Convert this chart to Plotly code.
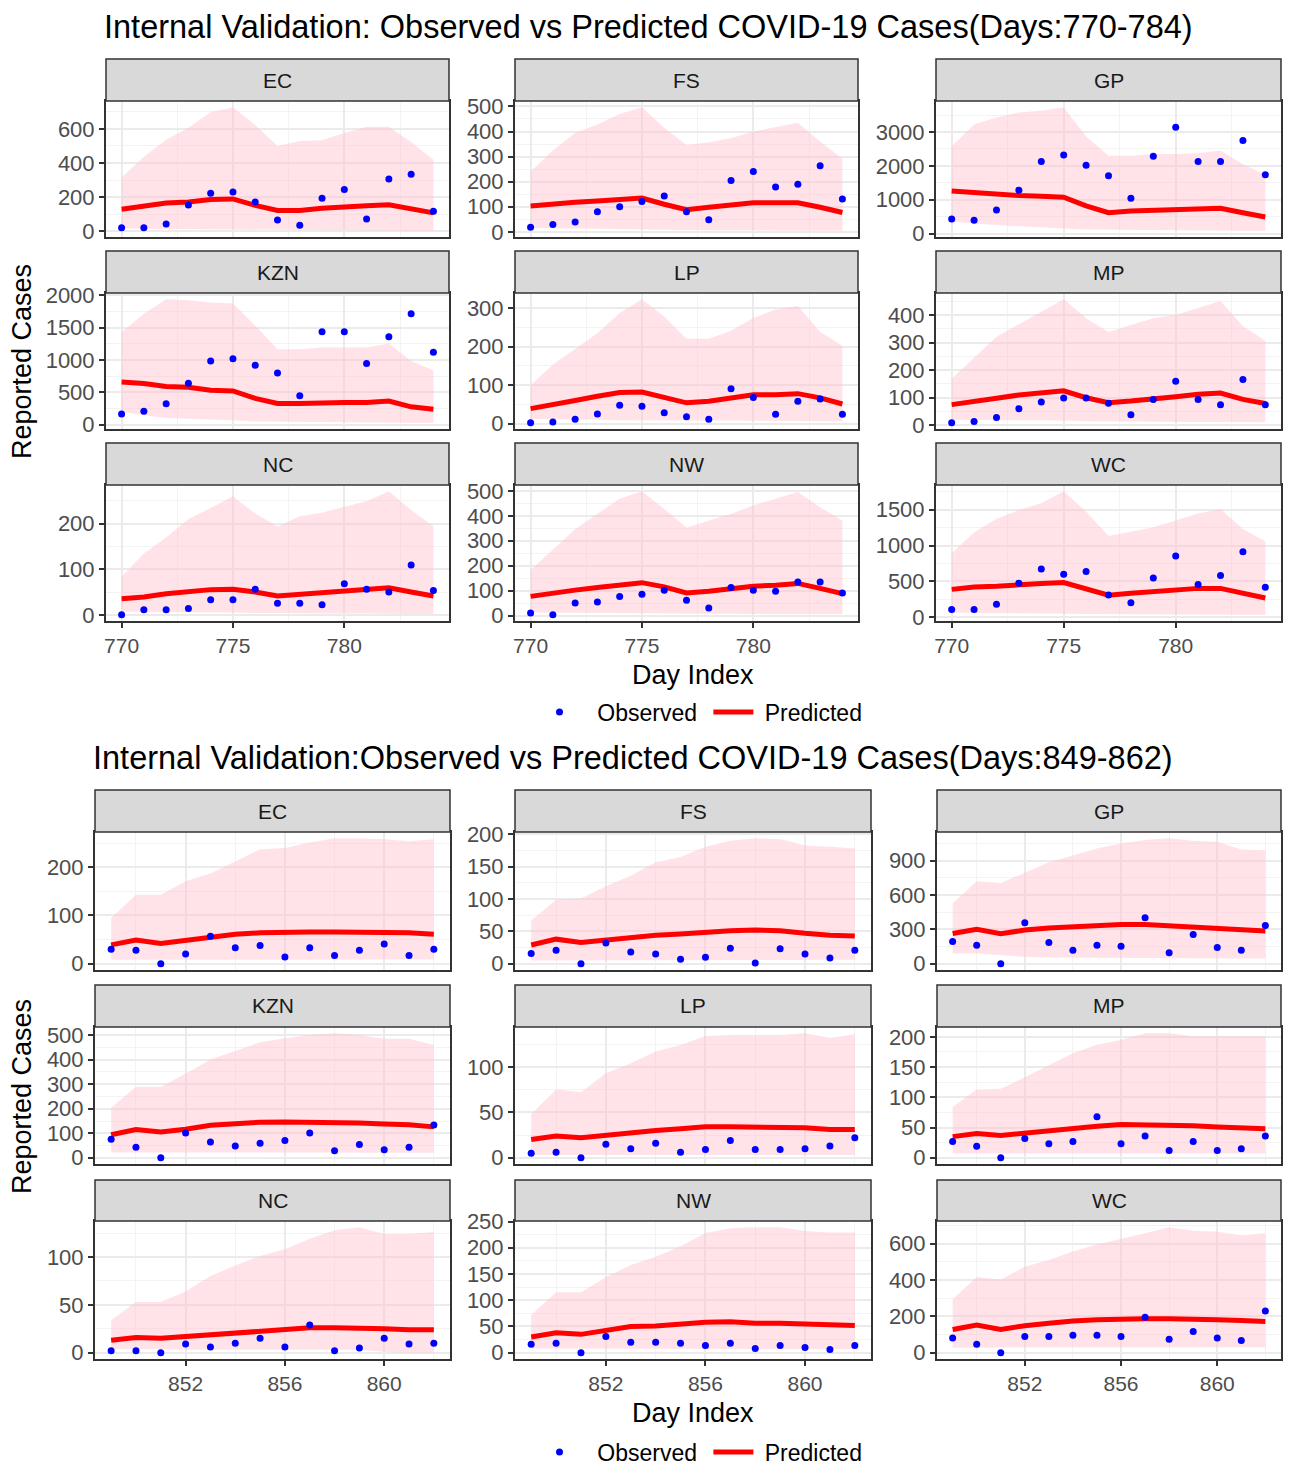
import plotly.graph_objects as go

W, H = 1295, 1465
regions = ["EC", "FS", "GP", "KZN", "LP", "MP", "NC", "NW", "WC"]
days_top = list(range(770, 785))
days_bot = list(range(849, 863))

# ---------------- Days 770-784 ----------------
obs_top = {
    "EC": [20, 20, 42, 153, 222, 230, 171, 66, 34, 193, 244, 72, 306, 334, 117],
    "FS": [18, 29, 39, 80, 100, 121, 143, 80, 48, 205, 241, 179, 190, 263, 131],
    "GP": [430, 389, 696, 1279, 2129, 2323, 2016, 1709, 1044, 2282, 3142, 2129, 2129, 2753, 1740],
    "KZN": [167, 209, 324, 642, 982, 1018, 919, 799, 449, 1436, 1436, 945, 1358, 1713, 1117],
    "LP": [2, 4, 11, 25, 48, 45, 28, 18, 11, 91, 68, 24, 58, 64, 24],
    "MP": [9, 14, 28, 60, 85, 99, 99, 80, 38, 94, 160, 94, 75, 166, 75],
    "NC": [1, 12, 12, 15, 34, 34, 57, 26, 26, 23, 69, 57, 51, 110, 54],
    "NW": [10, 3, 50, 54, 76, 86, 102, 61, 30, 113, 102, 98, 135, 135, 91],
    "WC": [106, 106, 178, 473, 670, 598, 636, 309, 198, 545, 853, 453, 579, 911, 415],
}
pred_top = {
    "EC": [129, 149, 165, 171, 185, 189, 151, 121, 121, 135, 139, 149, 155, 129, 107],
    "FS": [103, 112, 118, 123, 128, 135, 110, 88, 98, 105, 116, 116, 116, 98, 77],
    "GP": [1259, 1208, 1177, 1126, 1105, 1075, 819, 614, 665, 686, 716, 747, 747, 614, 491],
    "KZN": [658, 637, 590, 580, 533, 522, 407, 329, 329, 345, 345, 345, 366, 277, 240],
    "LP": [39, 51, 60, 71, 81, 82, 69, 54, 58, 66, 75, 75, 78, 67, 51],
    "MP": [75, 85, 98, 110, 117, 125, 100, 82, 88, 98, 104, 113, 117, 94, 79],
    "NC": [36, 40, 47, 52, 56, 57, 51, 42, 46, 49, 53, 56, 60, 51, 42],
    "NW": [77, 91, 102, 113, 125, 132, 115, 91, 98, 109, 118, 122, 129, 109, 88],
    "WC": [386, 419, 429, 453, 468, 482, 395, 304, 333, 352, 381, 400, 400, 328, 265],
}
upper_top = {
    "EC": [314, 437, 536, 606, 697, 727, 622, 499, 529, 533, 576, 612, 612, 523, 419],
    "FS": [240, 325, 394, 428, 470, 497, 415, 346, 357, 373, 400, 417, 435, 360, 291],
    "GP": [2579, 3224, 3429, 3582, 3634, 3736, 2866, 2303, 2303, 2354, 2354, 2374, 2456, 2047, 1740],
    "KZN": [1426, 1713, 1937, 1922, 1885, 1870, 1530, 1165, 1165, 1191, 1191, 1191, 1253, 982, 836],
    "LP": [100, 154, 194, 235, 288, 324, 279, 221, 221, 242, 275, 297, 306, 239, 203],
    "MP": [169, 247, 322, 367, 414, 458, 389, 339, 364, 389, 401, 426, 451, 360, 307],
    "NC": [84, 135, 170, 210, 234, 260, 222, 194, 216, 224, 237, 249, 271, 230, 194],
    "NW": [183, 265, 346, 408, 469, 499, 428, 353, 380, 408, 442, 469, 496, 435, 380],
    "WC": [892, 1181, 1374, 1495, 1591, 1760, 1471, 1133, 1191, 1254, 1350, 1446, 1509, 1230, 1061],
}
lower_top = {
    "EC": [15, 14, 12, 11, 10, 9, 6, 4, 4, 4, 3, 3, 3, 2, 2],
    "FS": [15, 14, 13, 12, 11, 10, 8, 6, 6, 6, 5, 5, 5, 4, 4],
    "GP": [360, 300, 250, 210, 180, 150, 120, 100, 95, 90, 90, 85, 85, 80, 80],
    "KZN": [200, 146, 104, 94, 84, 68, 52, 42, 40, 40, 38, 36, 34, 32, 30],
    "LP": [12, 11, 10, 10, 9, 9, 9, 8, 8, 8, 8, 7, 7, 6, 6],
    "MP": [20, 19, 18, 18, 17, 17, 15, 14, 14, 13, 13, 12, 12, 11, 11],
    "NC": [8, 7, 7, 6, 6, 6, 5, 5, 5, 4, 4, 4, 4, 3, 3],
    "NW": [12, 11, 10, 10, 9, 9, 8, 7, 7, 7, 6, 6, 6, 5, 5],
    "WC": [60, 55, 52, 50, 48, 46, 40, 35, 34, 33, 32, 31, 30, 30, 30],
}

# ---------------- Days 849-862 ----------------
obs_bot = {
    "EC": [30, 28, 0, 20, 57, 33, 38, 14, 33, 17, 28, 41, 17, 30],
    "FS": [16, 21, 0, 32, 18, 15, 7, 10, 24, 1, 23, 15, 9, 21],
    "GP": [195, 162, 0, 357, 186, 117, 162, 153, 402, 96, 255, 141, 117, 333],
    "KZN": [76, 43, 0, 101, 64, 48, 59, 70, 101, 29, 54, 33, 43, 134],
    "LP": [5, 6, 0, 15, 10, 16, 6, 9, 19, 9, 9, 10, 13, 22],
    "MP": [27, 19, 0, 32, 23, 27, 68, 23, 36, 12, 27, 12, 15, 36],
    "NC": [2, 2, 0, 9, 6, 10, 15, 6, 29, 2, 5, 15, 9, 10],
    "NW": [16, 18, 0, 31, 20, 20, 18, 14, 18, 8, 14, 10, 6, 14],
    "WC": [81, 47, 0, 89, 89, 96, 96, 89, 196, 74, 117, 81, 68, 230],
}
pred_bot = {
    "EC": [39, 49, 42, 49, 55, 61, 64, 66, 66, 66, 66, 65, 64, 61],
    "FS": [29, 38, 33, 37, 41, 44, 46, 49, 51, 52, 51, 47, 44, 43],
    "GP": [264, 300, 261, 294, 312, 324, 336, 342, 342, 330, 315, 300, 294, 285],
    "KZN": [94, 115, 105, 116, 133, 140, 145, 146, 146, 142, 142, 138, 135, 126],
    "LP": [20, 24, 22, 25, 28, 30, 32, 34, 34, 34, 34, 33, 31, 31],
    "MP": [35, 40, 37, 41, 46, 49, 52, 55, 55, 53, 53, 51, 49, 48],
    "NC": [13, 16, 15, 17, 19, 21, 23, 24, 26, 26, 26, 25, 24, 24],
    "NW": [30, 38, 35, 42, 50, 51, 55, 58, 59, 56, 56, 55, 52, 52],
    "WC": [128, 153, 128, 149, 162, 175, 181, 187, 187, 187, 181, 181, 177, 172],
}
upper_bot = {
    "EC": [95, 143, 143, 171, 187, 212, 237, 240, 251, 260, 260, 258, 254, 258],
    "FS": [67, 99, 101, 120, 136, 157, 165, 181, 190, 194, 193, 183, 181, 178],
    "GP": [525, 720, 705, 795, 885, 945, 1005, 1050, 1080, 1095, 1074, 1065, 996, 990],
    "KZN": [204, 290, 290, 343, 401, 436, 471, 488, 501, 508, 501, 485, 485, 460],
    "LP": [48, 75, 72, 93, 104, 117, 124, 134, 135, 135, 135, 137, 132, 136],
    "MP": [84, 113, 114, 133, 153, 173, 187, 195, 206, 206, 201, 201, 201, 201],
    "NC": [34, 53, 53, 64, 80, 91, 101, 108, 119, 128, 131, 124, 124, 126],
    "NW": [72, 115, 115, 144, 167, 183, 203, 228, 237, 239, 239, 232, 229, 229],
    "WC": [294, 417, 402, 474, 511, 558, 596, 625, 658, 691, 672, 666, 647, 658],
}
lower_bot = {
    "EC": [8, 9, 9, 9, 9, 9, 9, 9, 9, 9, 9, 9, 9, 9],
    "FS": [5, 6, 6, 6, 6, 6, 6, 6, 6, 6, 6, 6, 6, 6],
    "GP": [90, 90, 75, 60, 54, 52, 50, 50, 48, 48, 46, 46, 45, 45],
    "KZN": [22, 20, 20, 20, 20, 20, 20, 20, 20, 20, 20, 20, 20, 20],
    "LP": [3, 3, 3, 3, 3, 3, 3, 3, 3, 3, 3, 3, 3, 3],
    "MP": [7, 7, 7, 7, 7, 7, 7, 7, 7, 7, 7, 7, 7, 7],
    "NC": [4, 4, 4, 3, 3, 3, 3, 3, 3, 3, 3, 1, 0, 0],
    "NW": [8, 8, 8, 7, 7, 7, 7, 7, 7, 7, 7, 7, 7, 7],
    "WC": [28, 30, 30, 30, 30, 30, 30, 30, 30, 30, 30, 30, 30, 30],
}

ydtick_top = {"EC": 200, "FS": 100, "GP": 1000, "KZN": 500, "LP": 100,
              "MP": 100, "NC": 100, "NW": 100, "WC": 500}
ydtick_bot = {"EC": 100, "FS": 50, "GP": 300, "KZN": 100, "LP": 50,
              "MP": 50, "NC": 50, "NW": 50, "WC": 200}
xticks_top = [770, 775, 780]
xticks_bot = [852, 856, 860]

title_top = "Internal Validation: Observed vs Predicted COVID-19 Cases(Days:770-784)"
title_bot = "Internal Validation:Observed vs Predicted COVID-19 Cases(Days:849-862)"
legend_names = ["Observed", "Predicted"]

# ---------------- layout geometry (pixels) ----------------
grids = [
    dict(days=days_top, obs=obs_top, pred=pred_top, up=upper_top, lo=lower_top,
         dt=ydtick_top, xt=xticks_top, xminor=2.5,
         cols=[(106, 449), (515, 858), (936, 1281)],
         rows=[((59, 101), (101, 237)), ((251, 293), (293, 429)), ((443, 485), (485, 621))],
         title=title_top, title_xy=(102, 27), ytitle_y=362, xtitle_y=675, legend_y=712,
         legend="legend"),
    dict(days=days_bot, obs=obs_bot, pred=pred_bot, up=upper_bot, lo=lower_bot,
         dt=ydtick_bot, xt=xticks_bot, xminor=2,
         cols=[(95, 450), (515, 871), (937, 1281)],
         rows=[((790, 832), (832, 970)), ((985, 1027), (1027, 1164)), ((1180, 1221), (1221, 1359))],
         title=title_bot, title_xy=(91, 758), ytitle_y=1097, xtitle_y=1413, legend_y=1452,
         legend="legend2"),
]

FONT = "Arial, 'Liberation Sans', sans-serif"
NB = "\u00a0"
fx = lambda px: px / W
fy = lambda py: 1 - py / H

fig = go.Figure()
layout = dict(width=W, height=H, margin=dict(l=0, r=0, t=0, b=0, autoexpand=False),
              paper_bgcolor="white", plot_bgcolor="white",
              font=dict(family=FONT, size=20, color="#1A1A1A"),
              shapes=[], annotations=[])

k = 0
for g in grids:
    days = g["days"]
    xr = (days[-1] - days[0]) * 0.05
    for i, reg in enumerate(regions):
        r, c = divmod(i, 3)
        k += 1
        xa = "x" if k == 1 else f"x{k}"
        ya = "y" if k == 1 else f"y{k}"
        xkey = "xaxis" if k == 1 else f"xaxis{k}"
        ykey = "yaxis" if k == 1 else f"yaxis{k}"
        (sy0, sy1), (py0, py1) = g["rows"][r]
        cx0, cx1 = g["cols"][c]
        up, lo, pr, ob = g["up"][reg], g["lo"][reg], g["pred"][reg], g["obs"][reg]
        fig.add_trace(go.Scatter(x=days + days[::-1], y=up + lo[::-1], fill="toself",
                                 fillcolor="rgba(255,192,203,0.45)", line=dict(width=0),
                                 mode="lines", showlegend=False, hoverinfo="skip",
                                 xaxis=xa, yaxis=ya))
        fig.add_trace(go.Scatter(x=days, y=pr, mode="lines",
                                 name=NB + legend_names[1],
                                 line=dict(color="red", width=5),
                                 showlegend=(i == 0), legend=g["legend"], legendrank=2,
                                 xaxis=xa, yaxis=ya))
        fig.add_trace(go.Scatter(x=days, y=ob, mode="markers",
                                 name=NB + NB + legend_names[0] + NB,
                                 marker=dict(color="blue", size=7),
                                 showlegend=(i == 0), legend=g["legend"], legendrank=1,
                                 xaxis=xa, yaxis=ya))
        ymin = min(min(up), min(lo), min(pr), min(ob))
        ymax = max(max(up), max(lo), max(pr), max(ob))
        pad = (ymax - ymin) * 0.05
        bottom_row = (r == 2)
        layout[xkey] = dict(domain=[fx(cx0), fx(cx1)], anchor=ya, automargin=False,
                            range=[days[0] - xr, days[-1] + xr],
                            tickmode="array", tickvals=g["xt"],
                            showticklabels=bottom_row, ticks="outside" if bottom_row else "",
                            ticklen=5, tickwidth=1.5, tickcolor="#333333",
                            tickfont=dict(size=21, color="#4D4D4D"),
                            showgrid=True, gridcolor="#EBEBEB", gridwidth=1.6,
                            minor=dict(showgrid=True, gridcolor="#F3F3F3", gridwidth=0.8,
                                       dtick=g["xminor"], tick0=g["xt"][0]),
                            zeroline=False, showline=True, mirror=True,
                            linecolor="#333333", linewidth=2)
        dt = g["dt"][reg]
        layout[ykey] = dict(domain=[fy(py1), fy(py0)], anchor=xa, automargin=False,
                            range=[ymin - pad, ymax + pad],
                            dtick=dt, tick0=0, ticks="outside", ticklen=5, tickwidth=1.5,
                            tickcolor="#333333", tickfont=dict(size=22, color="#4D4D4D"),
                            showgrid=True, gridcolor="#EBEBEB", gridwidth=1.6,
                            minor=dict(showgrid=True, gridcolor="#F3F3F3", gridwidth=0.8,
                                       dtick=dt / 2, tick0=0),
                            zeroline=False, showline=True, mirror=True,
                            linecolor="#333333", linewidth=2)
        layout["shapes"].append(dict(type="rect", xref="paper", yref="paper",
                                     x0=fx(cx0), x1=fx(cx1), y0=fy(sy1), y1=fy(sy0),
                                     fillcolor="#D9D9D9", line=dict(color="#333333", width=1.5),
                                     layer="above"))
        layout["annotations"].append(dict(text=reg, xref="paper", yref="paper",
                                          x=fx((cx0 + cx1) / 2), y=fy((sy0 + sy1) / 2),
                                          xanchor="center", yanchor="middle", showarrow=False,
                                          font=dict(size=21, color="#1A1A1A")))
    # titles
    layout["annotations"].append(dict(text=g["title"], xref="paper", yref="paper",
                                      x=fx(g["title_xy"][0]), y=fy(g["title_xy"][1]),
                                      xanchor="left", yanchor="middle", showarrow=False,
                                      font=dict(size=32.5, color="black")))
    layout["annotations"].append(dict(text="Reported Cases", xref="paper", yref="paper",
                                      x=fx(22), y=fy(g["ytitle_y"]), textangle=-90,
                                      xanchor="center", yanchor="middle", showarrow=False,
                                      font=dict(size=27, color="black")))
    layout["annotations"].append(dict(text="Day Index", xref="paper", yref="paper",
                                      x=fx(693), y=fy(g["xtitle_y"]),
                                      xanchor="center", yanchor="middle", showarrow=False,
                                      font=dict(size=27, color="black")))
    layout[g["legend"]] = dict(orientation="h", x=fx(701), xanchor="center",
                               y=fy(g["legend_y"]), yanchor="middle",
                               font=dict(size=23, color="black"), bgcolor="rgba(0,0,0,0)",
                               traceorder="normal", itemwidth=40)

fig.update_layout(**layout)
fig.write_html("out.html",
               post_script="document.body.style.margin='0';document.body.style.padding='0';")
